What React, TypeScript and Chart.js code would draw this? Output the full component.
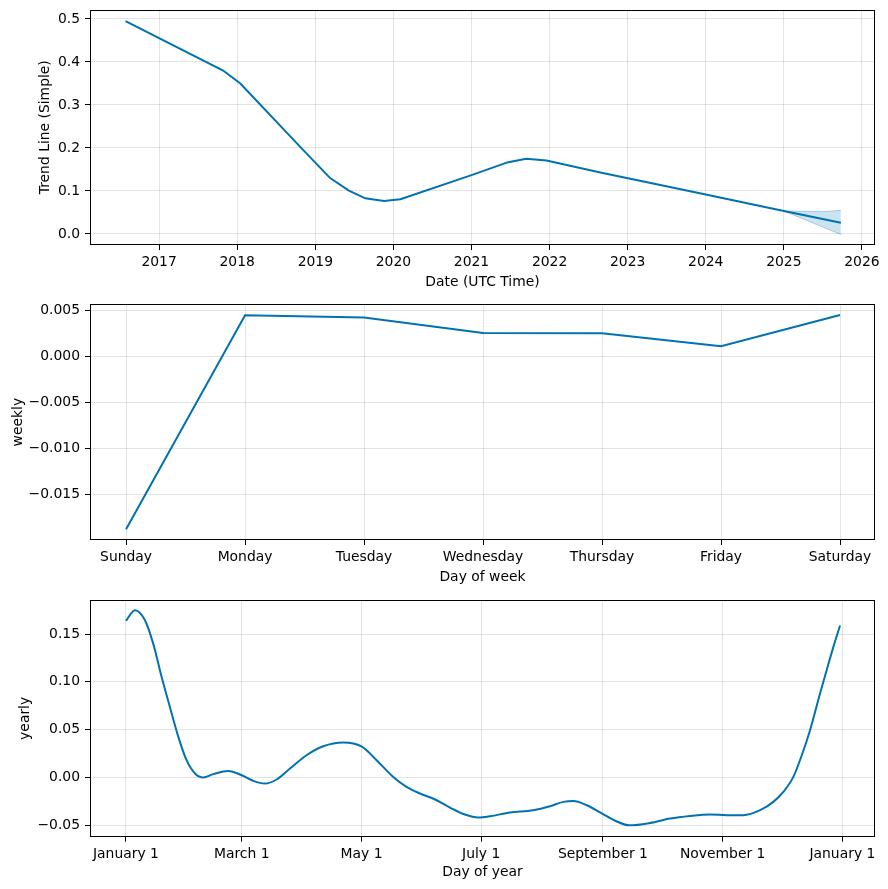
import React, { useEffect, useRef } from "react";
import { Chart, registerables } from "chart.js";
Chart.register(...registerables);

const FONT = "'DejaVu Sans', sans-serif";
const BLUE = "#0072B2";
const GRID = "rgba(128,128,128,0.22)";
const FS = 13.9;

// ---- Trend panel data ----
const trendYears = [2016.57, 2017.82, 2018.04, 2018.81, 2019.0, 2019.19, 2019.43, 2019.64, 2019.88, 2020.09, 2021.0, 2021.47, 2021.7, 2021.96, 2022.65, 2024.0, 2025.0, 2025.73];
const trendValues = [0.495, 0.38, 0.35, 0.202, 0.166, 0.13, 0.101, 0.083, 0.077, 0.081, 0.137, 0.167, 0.175, 0.171, 0.143, 0.092, 0.0535, 0.026];
const bandYears = [2025.0, 2025.5, 2025.73];
const bandUpper = [0.0535, 0.052, 0.055];
const bandLower = [0.0535, 0.016, -0.001];
const trendTickYears = [2017, 2018, 2019, 2020, 2021, 2022, 2023, 2024, 2025, 2026];
const trendYTicks = [0, 0.1, 0.2, 0.3, 0.4, 0.5];

// ---- Weekly panel data ----
const weekDays = ["Sunday", "Monday", "Tuesday", "Wednesday", "Thursday", "Friday", "Saturday"];
const weeklyValues = [-0.01874, 0.00444, 0.00419, 0.00252, 0.00249, 0.00108, 0.00447];
const weeklyYTicks = [-0.015, -0.01, -0.005, 0, 0.005];

// ---- Yearly panel data ----
const yearlyDays = [0, 4.6, 9.7, 13.9, 18.2, 22.4, 26.7, 30.9, 35.2, 39.4, 44.5, 52.1, 59, 64.9, 70.8, 76.8, 83.6, 92, 100.5, 110.7, 120, 127.7, 136.2, 143, 149.8, 157.5, 165.1, 172.7, 179.5, 185.5, 195.7, 207.5, 216.1, 222.8, 227.9, 234.8, 242, 249, 256.5, 267, 277.2, 287.4, 297.6, 306.1, 314.6, 323.1, 329.8, 334.9, 340, 344.3, 348.5, 353.6, 357.9, 360.4, 363.8];
const yearlyValues = [0.1638, 0.175, 0.1645, 0.14, 0.105, 0.0738, 0.0425, 0.0181, 0.0042, 0.0, 0.0035, 0.0069, 0.0024, -0.0035, -0.0063, -0.0021, 0.0094, 0.0233, 0.0327, 0.0366, 0.0325, 0.0181, 0.0006, -0.0098, -0.0167, -0.023, -0.0314, -0.0387, -0.0418, -0.0405, -0.0366, -0.0342, -0.03, -0.0255, -0.0245, -0.029, -0.037, -0.045, -0.05, -0.0475, -0.0429, -0.0402, -0.0387, -0.0394, -0.0394, -0.0342, -0.0255, -0.0151, 0.0006, 0.0233, 0.0495, 0.0879, 0.119, 0.1366, 0.159];
const yearlyTickDays = [0, 59, 120, 181, 243, 304, 365];
const yearlyTickLabels = ["January 1", "March 1", "May 1", "July 1", "September 1", "November 1", "January 1"];
const yearlyYTicks = [-0.05, 0, 0.05, 0.1, 0.15];

const minus = (s: string) => s.replace("-", "\u2212");

const framePlugin = {
  id: "frame",
  afterDatasetsDraw(chart: any) {
    const { ctx, chartArea } = chart;
    const l = Math.round(chartArea.left) + 0.5;
    const t = Math.round(chartArea.top) + 0.5;
    const r = Math.round(chartArea.right) - 0.5;
    const b = Math.round(chartArea.bottom) - 0.5;
    ctx.save();
    ctx.strokeStyle = "#000";
    ctx.lineWidth = 1;
    ctx.strokeRect(l, t, r - l, b - t);
    ctx.restore();
  },
};

function zeroPad(s: any) {
  s.paddingTop = 0;
  s.paddingBottom = 0;
  s.paddingLeft = 0;
  s.paddingRight = 0;
}

function yAxis(min: number, max: number, ticks: number[], fmt: (v: number) => string, title: string, titlePad: number) {
  return {
    type: "linear",
    position: "left",
    min,
    max,
    afterBuildTicks: (s: any) => {
      s.ticks = ticks.map((v) => ({ value: v }));
    },
    afterFit: (s: any) => {
      s.width = 90;
      zeroPad(s);
    },
    ticks: { callback: (v: any) => fmt(Number(v)), color: "#000", font: { family: FONT, size: FS }, padding: 5, autoSkip: false },
    grid: { color: GRID, lineWidth: 1, tickColor: "#000", tickLength: 5 },
    border: { display: false },
    title: { display: true, text: title, color: "#000", font: { family: FONT, size: FS }, padding: { top: titlePad, bottom: 0 } },
  };
}

function xAxis(min: number, max: number, ticks: number[], fmt: (v: number) => string, title: string, height: number, titlePad: number) {
  return {
    type: "linear",
    position: "bottom",
    min,
    max,
    afterBuildTicks: (s: any) => {
      s.ticks = ticks.map((v) => ({ value: v }));
    },
    afterFit: (s: any) => {
      s.height = height;
      zeroPad(s);
    },
    ticks: { callback: (v: any) => fmt(Number(v)), color: "#000", font: { family: FONT, size: FS }, padding: 4, autoSkip: false, maxRotation: 0, minRotation: 0 },
    grid: { color: GRID, lineWidth: 1, tickColor: "#000", tickLength: 5 },
    border: { display: false },
    title: { display: true, text: title, color: "#000", font: { family: FONT, size: FS }, padding: { top: 0, bottom: titlePad } },
  };
}

function baseOptions(padTop: number, scales: any) {
  return {
    responsive: false,
    animation: false,
    layout: { padding: { top: padTop, right: 13, left: 0, bottom: 0 } },
    plugins: { legend: { display: false }, tooltip: { enabled: false } },
    scales,
  };
}

function Panel({ top, height, make }: { top: number; height: number; make: () => any }) {
  const ref = useRef<HTMLCanvasElement>(null);
  useEffect(() => {
    const chart = new Chart(ref.current as HTMLCanvasElement, make());
    return () => chart.destroy();
  }, []);
  return (
    <canvas
      ref={ref}
      width={888}
      height={height}
      style={{ position: "absolute", left: 0, top, width: 888, height, display: "block" }}
    />
  );
}

const makeTrend = () => ({
  type: "line",
  data: {
    datasets: [
      {
        data: trendYears.map((x, i) => ({ x, y: trendValues[i] })),
        borderColor: BLUE,
        borderWidth: 2,
        pointRadius: 0,
        tension: 0,
        fill: false,
      },
      {
        data: bandYears.map((x, i) => ({ x, y: bandUpper[i] })),
        borderColor: "rgba(0,114,178,0.3)",
        borderWidth: 1,
        backgroundColor: "rgba(0,114,178,0.2)",
        pointRadius: 0,
        tension: 0,
        fill: "+1",
      },
      {
        data: bandYears.map((x, i) => ({ x, y: bandLower[i] })),
        borderColor: "rgba(0,114,178,0.3)",
        borderWidth: 1,
        pointRadius: 0,
        tension: 0,
        fill: false,
      },
    ],
  },
  options: baseOptions(9.5, {
    x: xAxis(2016.115, 2026.167, trendTickYears, (v) => String(Math.round(v)), "Date (UTC Time)", 50, 4.7),
    y: yAxis(-0.0256, 0.522, trendYTicks, (v) => minus(v.toFixed(1)), "Trend Line (Simple)", 36.7),
  }),
  plugins: [framePlugin],
});

const makeWeekly = () => ({
  type: "line",
  data: {
    datasets: [
      {
        data: weeklyValues.map((y, i) => ({ x: i, y })),
        borderColor: BLUE,
        borderWidth: 2,
        pointRadius: 0,
        tension: 0,
        fill: false,
      },
    ],
  },
  options: baseOptions(9.3, {
    x: xAxis(-0.303, 6.294, weekDays.map((_, i) => i), (v) => weekDays[Math.round(v)] ?? "", "Day of week", 50, 4.7),
    y: yAxis(-0.0199, 0.00562, weeklyYTicks, (v) => minus(v.toFixed(3)), "weekly", 9.7),
  }),
  plugins: [framePlugin],
});

const makeYearly = () => ({
  type: "line",
  data: {
    datasets: [
      {
        data: yearlyDays.map((x, i) => ({ x, y: yearlyValues[i] })),
        borderColor: BLUE,
        borderWidth: 2,
        pointRadius: 0,
        cubicInterpolationMode: "monotone",
        fill: false,
      },
    ],
  },
  options: baseOptions(10, {
    x: xAxis(-18.3, 381.6, yearlyTickDays, (v) => yearlyTickLabels[yearlyTickDays.indexOf(Math.round(v))] ?? "", "Day of year", 52.3, 8.7),
    y: yAxis(-0.0619, 0.1856, yearlyYTicks, (v) => minus(v.toFixed(2)), "yearly", 16.7),
  }),
  plugins: [framePlugin],
});

export default function App() {
  return (
    <div style={{ position: "absolute", left: 0, top: 0, width: 888, height: 889, background: "#fff" }}>
      <Panel top={0} height={295} make={makeTrend} />
      <Panel top={295} height={295} make={makeWeekly} />
      <Panel top={590} height={299} make={makeYearly} />
    </div>
  );
}
